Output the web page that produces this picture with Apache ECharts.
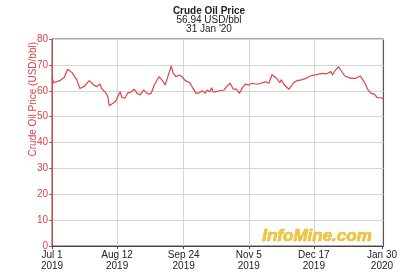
<!DOCTYPE html>
<html>
<head>
<meta charset="utf-8">
<script src="https://cdn.jsdelivr.net/npm/echarts@6/dist/echarts.min.js"></script>
<style>
  html, body { margin: 0; padding: 0; background: #fff; }
  #main { width: 400px; height: 278px; }
</style>
</head>
<body>
<div id="main"></div>
<script type="text/javascript">
    // days counted from Jul 1 2019, price in USD/bbl
    var days   = [0, 1, 5, 8, 9, 10, 13, 16, 18, 21, 24, 27, 29, 31, 32, 35, 36, 37, 41, 42,
                  44, 45, 47, 49, 51, 53, 55, 57, 59, 60, 62, 64, 66, 67, 69, 71, 73, 74, 77, 78,
                  80, 82, 84, 86, 89, 91, 93, 95, 97, 99, 100, 102, 103, 104, 106, 108, 111, 113, 115, 117,
                  119, 121, 123, 125, 127, 129, 132, 135, 138, 140, 142, 145, 147, 148, 150, 153, 156, 158, 161, 164,
                  167, 170, 172, 175, 177, 180, 181, 183, 185, 186, 189, 190, 193, 196, 199, 200, 202, 204, 206, 208,
                  210, 212, 214];
    var prices = [65.4, 63.1, 63.9, 65.2, 64.8, 68.3, 67.0, 64.2, 60.9, 61.8, 63.9, 62.2, 61.6, 62.6, 60.9, 59.0, 57.7, 54.2, 55.8, 56.4,
                  59.6, 57.5, 57.1, 59.2, 59.5, 60.6, 59.0, 58.4, 60.3, 60.6, 58.7, 59.0, 62.2, 61.6, 65.4, 64.2, 62.2, 62.6, 69.6, 67.0,
                  65.4, 66.1, 65.4, 63.9, 63.1, 60.9, 59.0, 59.2, 60.0, 59.0, 60.3, 59.6, 61.2, 59.6, 59.6, 60.0, 60.3, 61.8, 62.9, 60.6,
                  60.6, 59.0, 61.3, 62.6, 62.2, 62.9, 62.5, 62.9, 63.5, 62.9, 66.2, 64.8, 63.1, 64.2, 62.2, 60.6, 63.1, 63.9, 64.2, 64.8,
                  65.8, 66.1, 66.4, 66.7, 66.5, 67.4, 66.1, 68.0, 69.3, 68.3, 65.7, 65.2, 64.8, 64.8, 65.7, 64.8, 62.9, 60.3, 59.0, 58.7,
                  57.3, 57.3, 56.94];
    var tickDays   = [0, 42, 85, 127, 169, 213];
    var tickLabels = ['Jul 1\n2019', 'Aug 12\n2019', 'Sep 24\n2019', 'Nov 5\n2019', 'Dec 17\n2019', 'Jan 30\n2020'];

    var seriesData = [];
    for (var i = 0; i < days.length; i++) {
        seriesData.push([days[i], prices[i]]);
    }

    var red  = '#dc4446';
    var font = 'Liberation Sans';
    var myChart = echarts.init(document.getElementById('main'));

    var option = {
        backgroundColor: '#fff',
        animation: false,
        title: {
            text: 'Crude Oil Price',
            subtext: "56.94 USD/bbl\n31 Jan '20",
            left: 204, top: 1, textAlign: 'center', itemGap: 0,
            textStyle: { color: '#222', fontSize: 10, fontWeight: 'bold', fontFamily: font },
            subtextStyle: { color: '#222', fontSize: 10, fontFamily: font, lineHeight: 8.5 }
        },
        grid: { left: 52, top: 39, right: 15, bottom: 32, show: true, borderColor: '#555', borderWidth: 1 },
        xAxis: {
            type: 'value', min: 0, max: 214,
            axisLine: { show: true, lineStyle: { color: '#444' } },
            axisTick: { show: true, length: 3, lineStyle: { color: '#444' }, customValues: tickDays },
            axisLabel: {
                customValues: tickDays, color: '#222', fontSize: 10, fontFamily: font, lineHeight: 11, margin: 4,
                formatter: function (v) { return tickLabels[tickDays.indexOf(v)]; }
            },
            splitLine: { show: true, lineStyle: { color: '#d4d4d4' } }
        },
        yAxis: {
            type: 'value', min: 0, max: 80, interval: 10,
            axisLine: { show: true, lineStyle: { color: red } },
            axisTick: { show: true, length: 3, lineStyle: { color: red } },
            axisLabel: { color: red, fontSize: 10, fontFamily: font, margin: 4 },
            splitLine: { show: true, lineStyle: { color: '#d4d4d4' } }
        },
        graphic: [
            {
                type: 'text', x: 33, y: 42, rotation: Math.PI / 2,
                style: { text: 'Crude Oil Price (USD/bbl)', fill: red, font: '10px "Liberation Sans"', align: 'right', verticalAlign: 'middle' }
            },
            {
                type: 'text', x: 317, y: 236, z: 1,
                style: {
                    text: 'InfoMine.com', font: 'italic bold 17px "Liberation Sans"', align: 'center', verticalAlign: 'middle',
                    fill: '#f0c83c', stroke: '#d9a520', lineWidth: 0.6
                }
            }
        ],
        series: [{
            type: 'line', data: seriesData, symbol: 'none', z: 3,
            lineStyle: { color: red, width: 1.2 }
        }]
    };
    myChart.setOption(option);
</script>
</body>
</html>
